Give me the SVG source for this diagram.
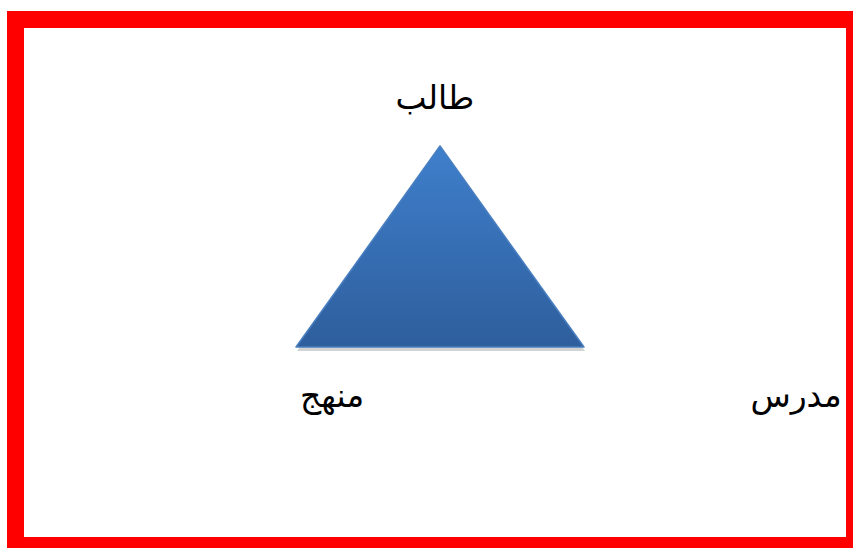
<svg xmlns="http://www.w3.org/2000/svg" width="853" height="548" viewBox="0 0 853 548">
<defs>
<linearGradient id="tg" x1="0" y1="0" x2="0" y2="1">
<stop offset="0" stop-color="#3f7fcc"/>
<stop offset="1" stop-color="#2e5e9c"/>
</linearGradient>
<style>
.lbl{font-family:"DejaVu Sans","Noto Sans",sans-serif;font-size:33px;fill:#000;text-anchor:middle}
</style>
</defs>
<rect width="853" height="548" fill="#fff"/>
<rect x="15.5" y="19.5" width="839" height="526" fill="none" stroke="#ff0000" stroke-width="17"/>
<g id="triangle">
<polygon points="297,351 441,150 585,351" fill="#c8c8c8" opacity="0.8"/>
<polygon points="440,146 296,347 584,347" fill="url(#tg)" stroke="#4a7fc0" stroke-width="1.5" stroke-linejoin="round"/>
</g>
<g id="talib"><text class="lbl" x="435" y="109">طالب</text></g>
<g id="manhaj"><text class="lbl" x="332" y="407">منهج</text></g>
<g id="mudarris"><text class="lbl" x="796" y="407">مدرس</text></g>
<g id="connectors"></g>
</svg>
